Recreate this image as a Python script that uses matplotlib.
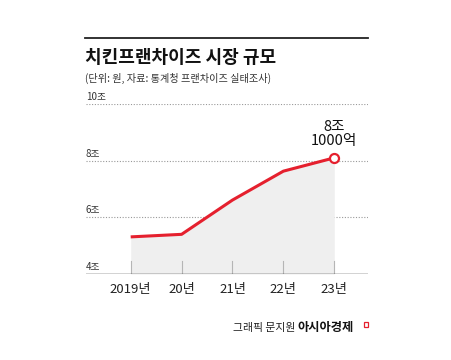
import matplotlib.pyplot as plt
from matplotlib.lines import Line2D
from matplotlib.patches import Rectangle

plt.rcParams['font.family'] = ['Noto Sans CJK KR', 'DejaVu Sans']

# data (조 원)
years = ['2019년', '20년', '21년', '22년', '23년']
values = [5.31, 5.4, 6.61, 7.63, 8.1]
y_ticks = [4, 6, 8, 10]
y_tick_labels = ['4조', '6조', '8조', '10조']
last_label = '8조\n1000억'

RED = '#e5202e'

fig = plt.figure(figsize=(4.51, 3.6), dpi=100)
W, H = 451, 360
ax = fig.add_axes([86 / W, 1 - 274 / H, (368 - 86) / W, (274 - 104) / H])

x = list(range(len(values)))
ax.set_xlim(-0.878, 4.662)
ax.set_ylim(4, 10)

# shaded area under line
ax.fill_between(x, values, 4, color='#efefef', lw=0, zorder=1)

# dotted grid lines
for t in y_ticks[1:]:
    ax.axhline(t, color='#999999', lw=0.8, ls=(0, (1, 1.5)), zorder=0)

# small vertical ticks from baseline
for xi in x:
    ax.plot([xi, xi], [4, 4.45], color='#b5b5b5', lw=0.8, zorder=2)

ax.plot(x, values, color=RED, lw=2.2, solid_capstyle='butt', zorder=3)
ax.plot(x[-1], values[-1], 'o', ms=6.5, mfc='white', mec=RED, mew=1.6, zorder=4)
ax.text(x[-1], values[-1] + 0.35, last_label, ha='center', va='bottom',
        fontsize=10.5, linespacing=1.0, color='#111111')

ax.axhline(4, color='#222222', lw=1.0, zorder=5)

for t, lab in zip(y_ticks, y_tick_labels):
    ax.text(-0.878, t + 0.07, lab, ha='left', va='bottom', fontsize=7,
            color='#333333')

for xi, lab in zip(x, years):
    ax.text(xi, 3.45, lab, ha='center', va='center', fontsize=9.5,
            color='#222222')

ax.set_xticks([])
ax.set_yticks([])
for s in ax.spines.values():
    s.set_visible(False)
ax.patch.set_alpha(0)

# header
fig.add_artist(Line2D([85 / W, 368 / W], [1 - 38 / H, 1 - 38 / H],
                      color='#222222', lw=1.3))
fig.text(85 / W, 1 - 57.5 / H, '치킨프랜차이즈 시장 규모', fontsize=13,
         fontweight='heavy', ha='left', va='center', color='#111111')
fig.text(85 / W, 1 - 78 / H, '(단위: 원, 자료: 통계청 프랜차이즈 실태조사)',
         fontsize=7.3, ha='left', va='center', color='#333333')

# footer
fig.text(233 / W, 1 - 328 / H, '그래픽 문지원', fontsize=7.8, ha='left',
         va='center', color='#222222')
fig.text(297 / W, 1 - 328 / H, '아시아경제', fontsize=8.8, fontweight='heavy',
         ha='left', va='center', color='#111111')
fig.add_artist(Rectangle((363.5 / W, 1 - 327 / H), 4 / W, 5 / H,
                         fill=False, ec=RED, lw=0.9))

fig.savefig('out.png', dpi=100)
